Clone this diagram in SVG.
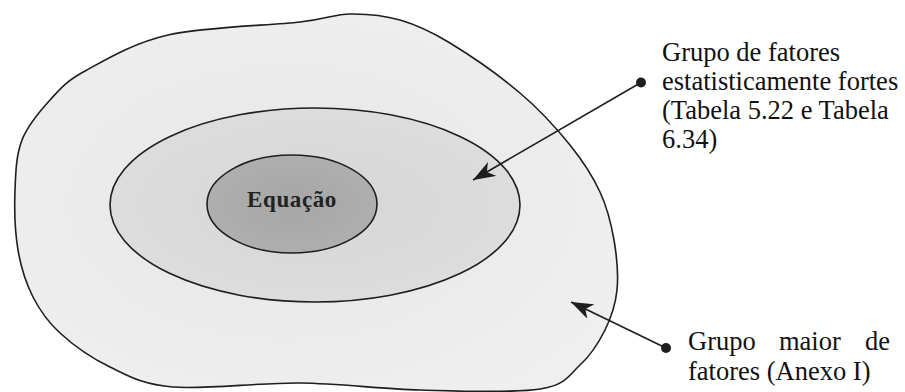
<svg xmlns="http://www.w3.org/2000/svg" width="905" height="392" viewBox="0 0 905 392">
<style>
.ln{stroke:#1e1e1e;stroke-width:1.6;}
.lbl{font-family:"Liberation Serif","Times New Roman",serif;font-size:26.5px;fill:#111;}
.eq{font-family:"Liberation Serif","Times New Roman",serif;font-size:23px;font-weight:bold;fill:#222;letter-spacing:0.6px;}
</style>
<defs>
<radialGradient id="gOuter" cx="0.45" cy="0.5" r="0.6">
<stop offset="0" stop-color="#e6e6e6"/>
<stop offset="1" stop-color="#efefef"/>
</radialGradient>
<radialGradient id="gMid" cx="0.5" cy="0.5" r="0.6">
<stop offset="0" stop-color="#d6d6d6"/>
<stop offset="1" stop-color="#dedede"/>
</radialGradient>
<radialGradient id="gIn" cx="0.5" cy="0.5" r="0.6">
<stop offset="0" stop-color="#a6a6a6"/>
<stop offset="1" stop-color="#b0b0b0"/>
</radialGradient>
<marker id="ah" markerUnits="userSpaceOnUse" markerWidth="24" markerHeight="16" refX="22" refY="8" orient="auto" viewBox="0 0 24 16">
<path d="M22,8 L0,0 L6,8 L0,16 Z" fill="#1e1e1e"/>
</marker>
</defs>
<g id="outer">
<path class="ln" fill="url(#gOuter)" d="M15,190 C15.7,171.7 16.2,155 22,140 C27.8,125 39.5,111.5 50,100 C60.5,88.5 65.3,81.8 85,71 C104.7,60.2 132.2,43.2 168,35 C203.8,26.8 269.7,25.5 300,22 C330.3,18.5 333.3,14.3 350,14 C366.7,13.7 383.3,15.2 400,20 C416.7,24.8 430,30.8 450,43 C470,55.2 500,76 520,93 C540,110 556.7,128.5 570,145 C583.3,161.5 592.7,176.2 600,192 C607.3,207.8 611.2,223.7 614,240 C616.8,256.3 618.5,275 617,290 C615.5,305 611.2,317.5 605,330 C598.8,342.5 590.8,355.2 580,365 C569.2,374.8 566.7,384.8 540,389 C513.3,393.2 460,391 420,390 C380,389 341.2,383.5 300,383 C258.8,382.5 204.7,389.7 173,387 C141.3,384.3 128.8,376 110,367 C91.2,358 72.8,344.7 60,333 C47.2,321.3 40,310.8 33,297 C26,283.2 21,267.8 18,250 C15,232.2 14.3,208.3 15,190 Z"/>
</g>
<g id="middle">
<ellipse class="ln" fill="url(#gMid)" cx="315" cy="205" rx="205" ry="97"/>
</g>
<g id="equacao">
<ellipse class="ln" fill="url(#gIn)" cx="292" cy="204" rx="85" ry="49"/>
<text class="eq" x="292" y="207" text-anchor="middle">Equação</text>
</g>
<g id="connectors">
<line class="ln" x1="641" y1="82.5" x2="473" y2="180" marker-end="url(#ah)"/>
<circle cx="641" cy="82.5" r="5" fill="#1e1e1e"/>
<line class="ln" x1="666" y1="348" x2="571" y2="302" marker-end="url(#ah)"/>
<circle cx="666" cy="348" r="5" fill="#1e1e1e"/>
</g>
<g id="label-strong">
<text class="lbl" x="662" y="60.5">Grupo de fatores</text>
<text class="lbl" x="662" y="89.5">estatisticamente fortes</text>
<text class="lbl" x="662" y="118.5">(Tabela 5.22 e Tabela</text>
<text class="lbl" x="662" y="148">6.34)</text>
</g>
<g id="label-larger">
<text class="lbl" x="688" y="350">Grupo</text>
<text class="lbl" x="779" y="350">maior</text>
<text class="lbl" x="890" y="350" text-anchor="end">de</text>
<text class="lbl" x="688" y="380">fatores (Anexo I)</text>
</g>
</svg>
